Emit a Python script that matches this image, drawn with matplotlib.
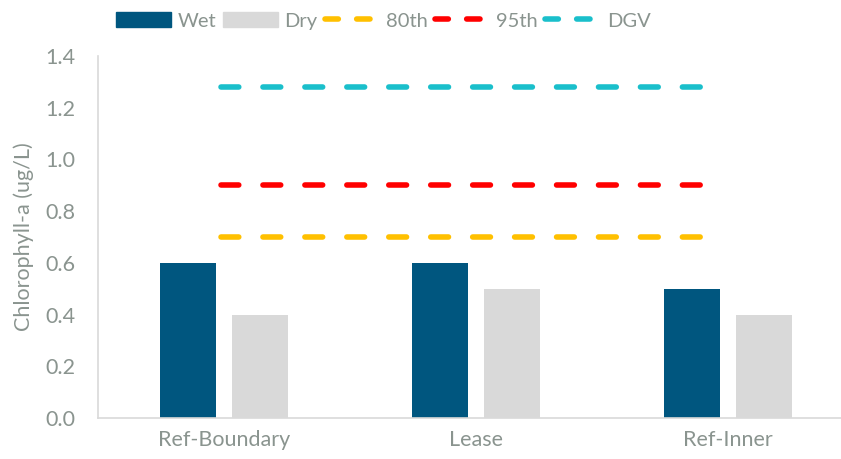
import matplotlib.pyplot as plt
import numpy as np
from matplotlib.lines import Line2D
from matplotlib.patches import Patch

plt.rcParams['font.family'] = ['Lato', 'DejaVu Sans']

sites = ['Ref-Boundary', 'Lease', 'Ref-Inner']
wet = [0.6, 0.6, 0.5]
dry = [0.4, 0.5, 0.4]
p80 = 0.7
p95 = 0.9
dgv = 1.28

text_col = '#8A948F'
grid_col = '#D9D9D9'
wet_col = '#00567F'
dry_col = '#D9D9D9'
c80 = '#FFC000'
c95 = '#FF0000'
cdgv = '#1ABFCB'
fs = 15.5

fig = plt.figure(figsize=(8.41, 4.59), dpi=100)
ax = fig.add_axes([98 / 841, 41 / 459, 743 / 841, 362 / 459])

x = np.arange(len(sites))
bw = 0.222
off = 0.142
ax.bar(x - off, wet, bw, color=wet_col, zorder=2)
ax.bar(x + off, dry, bw, color=dry_col, zorder=2)

# reference lines, first to last category (dash pattern cuts the end short)
for val, col in [(p80, c80), (p95, c95), (dgv, cdgv)]:
    ax.plot([x[0] - 0.01, x[-1] - 0.07], [val, val], color=col, linewidth=4,
            dashes=(3.2, 4.35), dash_capstyle='round', zorder=3)

ax.set_xlim(-0.5, -0.5 + 743 / 252)
ax.set_ylim(0, 1.4)
ax.set_yticks(np.arange(0, 1.41, 0.2))
ax.set_yticklabels([f'{v:.1f}' for v in np.arange(0, 1.41, 0.2)])
ax.set_xticks(x)
ax.set_xticklabels(sites)
ax.tick_params(axis='both', length=0, labelsize=fs, colors=text_col)
ax.tick_params(axis='y', pad=16)
ax.tick_params(axis='x', pad=9)

for s in ['top', 'right']:
    ax.spines[s].set_visible(False)
for s in ['left', 'bottom']:
    ax.spines[s].set_color(grid_col)
    ax.spines[s].set_linewidth(1.2)

ax.set_ylabel('Chlorophyll-a (ug/L)', fontsize=fs, color=text_col, labelpad=8.5)

handles = [
    Patch(color=wet_col, label='Wet'),
    Patch(color=dry_col, label='Dry'),
    Line2D([], [], color=c80, lw=4, dashes=(2.4, 3.3), dash_capstyle='round', label='80th'),
    Line2D([], [], color=c95, lw=4, dashes=(2.4, 3.3), dash_capstyle='round', label='95th'),
    Line2D([], [], color=cdgv, lw=4, dashes=(2.4, 3.3), dash_capstyle='round', label='DGV'),
]
leg = fig.legend(handles=handles, loc='center left', bbox_to_anchor=(116 / 841, 1 - 21 / 459),
                 ncol=5, frameon=False, fontsize=14.5, handlelength=2.75, handleheight=0.7,
                 handletextpad=0.3, columnspacing=0.35, borderaxespad=0, borderpad=0)
for t in leg.get_texts():
    t.set_color(text_col)

fig.savefig('out.png', dpi=100)
